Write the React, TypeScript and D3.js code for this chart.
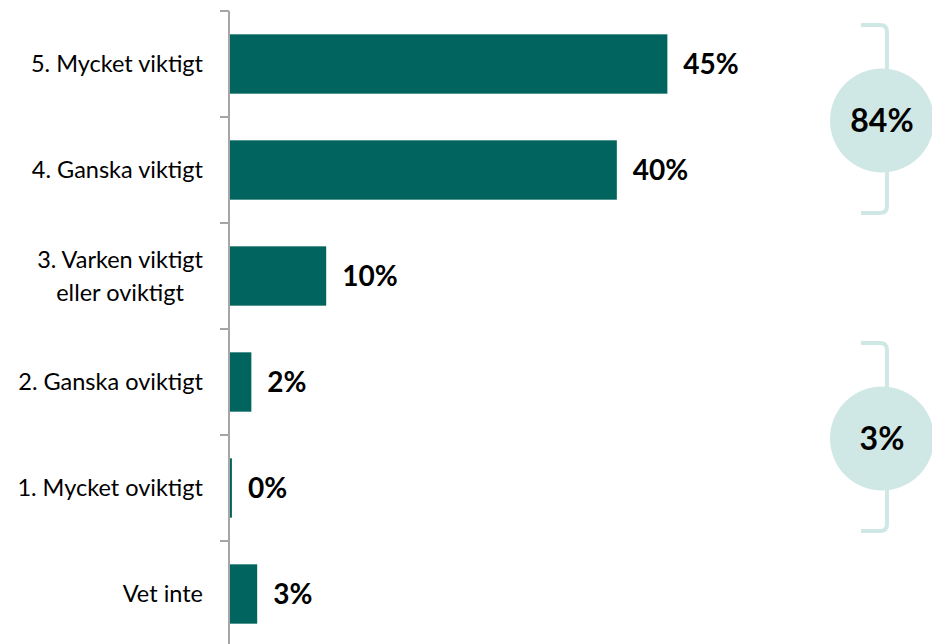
import React, { useLayoutEffect, useRef, useState } from "react";
import { scaleBand, scaleLinear } from "d3";

const categories = [
  "5. Mycket viktigt",
  "4. Ganska viktigt",
  "3. Varken viktigt|eller oviktigt",
  "2. Ganska oviktigt",
  "1. Mycket oviktigt",
  "Vet inte",
];
const values = [45.1, 39.9, 10.0, 2.3, 0.3, 2.9];
const valueLabels = ["45%", "40%", "10%", "2%", "0%", "3%"];

// summary groups: first and last category index covered, and label
const groupStart = [0, 3];
const groupEnd = [1, 4];
const groupLabels = ["84%", "3%"];

const WIDTH = 932;
const HEIGHT = 644;
const AXIS_X = 229;
const TOP = 11;
const STEP = 106;

const BAR = "#02645f";
const LIGHT = "#d0e8e5";
const FONT = "Lato, 'Open Sans', sans-serif";

function WrappedLabel({ text, x, y }: { text: string; x: number; y: number }) {
  const lines = text.split("|");
  const ref = useRef<SVGTextElement>(null);
  const [w, setW] = useState(0);
  useLayoutEffect(() => {
    if (ref.current) setW(ref.current.getComputedTextLength());
  }, []);
  if (lines.length === 1) {
    return (
      <text x={x} y={y} dy="0.35em" textAnchor="end" fontSize={23.5} fill="#000" fontFamily={FONT}>
        {text}
      </text>
    );
  }
  const cx = x - w / 2;
  return (
    <g fontSize={23.5} fill="#000" fontFamily={FONT}>
      {lines.map((l, i) => (
        <text
          key={l}
          ref={i === 0 ? ref : undefined}
          x={w ? cx : x}
          y={y + (i - (lines.length - 1) / 2) * 33}
          dy="0.35em"
          textAnchor={w ? "middle" : "end"}
        >
          {l}
        </text>
      ))}
    </g>
  );
}

export default function App() {
  const x = scaleLinear().domain([0, 50]).range([AXIS_X, AXIS_X + 486]);
  const y = scaleBand<string>()
    .domain(categories)
    .range([TOP, TOP + STEP * categories.length])
    .paddingInner(0.44)
    .paddingOuter(0.22);
  const step = y.step();
  const bandTop = (i: number) => TOP + i * step;

  return (
    <svg
      width={WIDTH}
      height={HEIGHT}
      style={{ position: "absolute", left: 0, top: 0, background: "#fff" }}
    >
      {/* bars */}
      {categories.map((c, i) => (
        <rect
          key={c}
          x={x(0)}
          y={y(c)!}
          width={x(values[i]) - x(0)}
          height={y.bandwidth()}
          fill={BAR}
        />
      ))}

      {/* axis */}
      <line x1={AXIS_X} x2={AXIS_X} y1={TOP} y2={HEIGHT} stroke="#a6a6a6" strokeWidth={2} />
      {categories.concat([""]).map((_, i) => (
        <line
          key={i}
          x1={AXIS_X - 9}
          x2={AXIS_X}
          y1={bandTop(i)}
          y2={bandTop(i)}
          stroke="#a6a6a6"
          strokeWidth={2}
        />
      ))}

      {/* category labels */}
      {categories.map((c) => (
        <WrappedLabel key={c} text={c} x={AXIS_X - 26} y={y(c)! + y.bandwidth() / 2} />
      ))}

      {/* value labels */}
      {categories.map((c, i) => (
        <text
          key={c}
          x={x(values[i]) + 16}
          y={y(c)! + y.bandwidth() / 2}
          dy="0.35em"
          fontSize={28}
          fontWeight="bold"
          fontFamily={FONT}
          fill="#000"
        >
          {valueLabels[i]}
        </text>
      ))}

      {/* group brackets */}
      {groupLabels.map((g, k) => {
        const top = bandTop(groupStart[k]);
        const bottom = bandTop(groupEnd[k] + 1);
        const mid = (top + bottom) / 2 + 2;
        const y0 = mid - 94;
        const y1 = mid + 94;
        const bx = 887;
        const hx = 861;
        const r = 7;
        const d = `M${hx},${y0} L${bx - r},${y0} Q${bx},${y0} ${bx},${y0 + r} L${bx},${y1 - r} Q${bx},${y1} ${bx - r},${y1} L${hx},${y1}`;
        return (
          <g key={g}>
            <path d={d} fill="none" stroke={LIGHT} strokeWidth={4} />
            <circle cx={882} cy={mid + 1.5} r={52} fill={LIGHT} />
            <text
              x={882}
              y={mid + 1.5}
              dy="0.35em"
              textAnchor="middle"
              fontSize={32}
              fontWeight="bold"
              fontFamily={FONT}
              fill="#000"
            >
              {g}
            </text>
          </g>
        );
      })}
    </svg>
  );
}
